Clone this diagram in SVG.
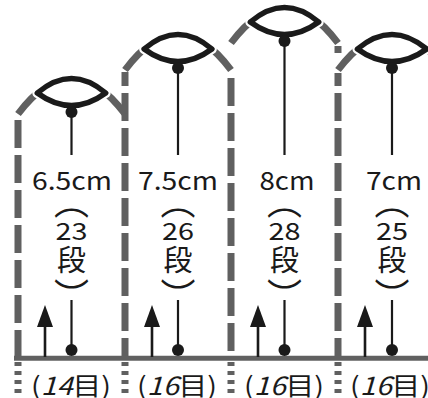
<svg xmlns="http://www.w3.org/2000/svg" width="428" height="398" viewBox="0 0 428 398">
<style>
.arc{fill:none;stroke:#606060;stroke-width:7}
.vl{fill:none;stroke:#606060;stroke-width:7;stroke-dasharray:28 7}
.vs{fill:none;stroke:#606060;stroke-width:7;stroke-dasharray:4 5}
.base{fill:none;stroke:#606060;stroke-width:5}
.eyew{fill:none;stroke:#fff;stroke-width:10;stroke-linejoin:round}
.eye{fill:none;stroke:#1a1a1a;stroke-width:5.5;stroke-linejoin:round}
.dot{fill:#1a1a1a}
.ln{fill:none;stroke:#1a1a1a;stroke-width:2.2}
.sh{fill:none;stroke:#1a1a1a;stroke-width:2.6}
.ah{fill:#1a1a1a}
.t{font-family:"Noto Sans CJK JP","Noto Sans",sans-serif;fill:#1a1a1a;text-anchor:middle}
.cm{font-size:25px}
.num{font-size:24px}
.dan{font-size:29px}
.par{font-size:35px}
.me{font-size:25px}
</style>
<g id="connectors">
<path class="vl" d="M18,120 V356"/>
<path class="vl" style="stroke-dashoffset:14" d="M125,72 V356"/>
<path class="vl" d="M231,78 V356"/>
<path class="vl" d="M338,46 V53"/>
<path class="vl" style="stroke-dashoffset:15" d="M338,73 V356"/>
<path class="vs" d="M18,362 V398 M125,362 V398 M231,362 V398 M338,362 V398"/>
<path class="base" d="M14,358.3 H428"/>
<path class="ln" d="M71.5,112 V155 M178,68 V155 M284.5,41 V155 M392,68 V155"/>
<path class="ln" d="M71.5,300 V350 M178,300 V350 M284.5,300 V350 M392,300 V350"/>
<circle class="dot" cx="71.5" cy="350" r="6"/>
<circle class="dot" cx="178" cy="350" r="6"/>
<circle class="dot" cx="284.5" cy="350" r="6"/>
<circle class="dot" cx="392" cy="350" r="6"/>
<path class="sh" d="M45,357 V325 M152,357 V325 M258,357 V325 M365,357 V325"/>
<path class="ah" d="M45,305 L53,327 L37,327 Z"/>
<path class="ah" d="M152,305 L160,327 L144,327 Z"/>
<path class="ah" d="M258,305 L266,327 L250,327 Z"/>
<path class="ah" d="M365,305 L373,327 L357,327 Z"/>
</g>
<g id="col1">
<path class="arc" d="M18,114 Q71.5,43 125,114"/>
<path class="eyew" d="M37.3,93 Q71.5,64 105.7,93 Q71.5,118 37.3,93 Z"/>
<path class="eye" d="M37.3,93 Q71.5,64 105.7,93 Q71.5,118 37.3,93 Z"/>
<circle class="dot" cx="71.5" cy="112" r="6"/>
<text class="t cm" x="72" y="190" textLength="80" lengthAdjust="spacingAndGlyphs">6.5cm</text>
<text class="t par" x="71.5" y="215">︵</text>
<text class="t num" x="71.5" y="240" textLength="32" lengthAdjust="spacingAndGlyphs">23</text>
<text class="t dan" x="71.5" y="271">段</text>
<text class="t par" x="71.5" y="309">︶</text>
<text class="t me" x="71" y="395" textLength="80" lengthAdjust="spacingAndGlyphs">(<tspan font-style="italic">14</tspan>目)</text>
</g>
<g id="col2">
<path class="arc" d="M125,70 Q178,-1 231,70"/>
<path class="eyew" d="M144.1,49 Q178,20 211.9,49 Q178,74 144.1,49 Z"/>
<path class="eye" d="M144.1,49 Q178,20 211.9,49 Q178,74 144.1,49 Z"/>
<circle class="dot" cx="178" cy="68" r="6"/>
<text class="t cm" x="178" y="190" textLength="80" lengthAdjust="spacingAndGlyphs">7.5cm</text>
<text class="t par" x="178" y="215">︵</text>
<text class="t num" x="178" y="240" textLength="32" lengthAdjust="spacingAndGlyphs">26</text>
<text class="t dan" x="178" y="271">段</text>
<text class="t par" x="178" y="309">︶</text>
<text class="t me" x="177" y="395" textLength="80" lengthAdjust="spacingAndGlyphs">(<tspan font-style="italic">16</tspan>目)</text>
</g>
<g id="col3">
<path class="arc" d="M231,43 Q284.5,-28 338,43"/>
<path class="eyew" d="M250.3,22 Q284.5,-7 318.7,22 Q284.5,47 250.3,22 Z"/>
<path class="eye" d="M250.3,22 Q284.5,-7 318.7,22 Q284.5,47 250.3,22 Z"/>
<circle class="dot" cx="284.5" cy="41" r="6"/>
<text class="t cm" x="287" y="190" textLength="55" lengthAdjust="spacingAndGlyphs">8cm</text>
<text class="t par" x="284.5" y="215">︵</text>
<text class="t num" x="284.5" y="240" textLength="32" lengthAdjust="spacingAndGlyphs">28</text>
<text class="t dan" x="284.5" y="271">段</text>
<text class="t par" x="284.5" y="309">︶</text>
<text class="t me" x="284" y="395" textLength="80" lengthAdjust="spacingAndGlyphs">(<tspan font-style="italic">16</tspan>目)</text>
</g>
<g id="col4">
<path class="arc" d="M338,70 Q392,-1 446,70"/>
<path class="eyew" d="M357.4,49 Q392,20 426.6,49 Q392,74 357.4,49 Z"/>
<path class="eye" d="M357.4,49 Q392,20 426.6,49 Q392,74 357.4,49 Z"/>
<circle class="dot" cx="392" cy="68" r="6"/>
<text class="t cm" x="394" y="190" textLength="56" lengthAdjust="spacingAndGlyphs">7cm</text>
<text class="t par" x="392" y="215">︵</text>
<text class="t num" x="392" y="240" textLength="32" lengthAdjust="spacingAndGlyphs">25</text>
<text class="t dan" x="392" y="271">段</text>
<text class="t par" x="392" y="309">︶</text>
<text class="t me" x="390" y="395" textLength="80" lengthAdjust="spacingAndGlyphs">(<tspan font-style="italic">16</tspan>目)</text>
</g>
</svg>
